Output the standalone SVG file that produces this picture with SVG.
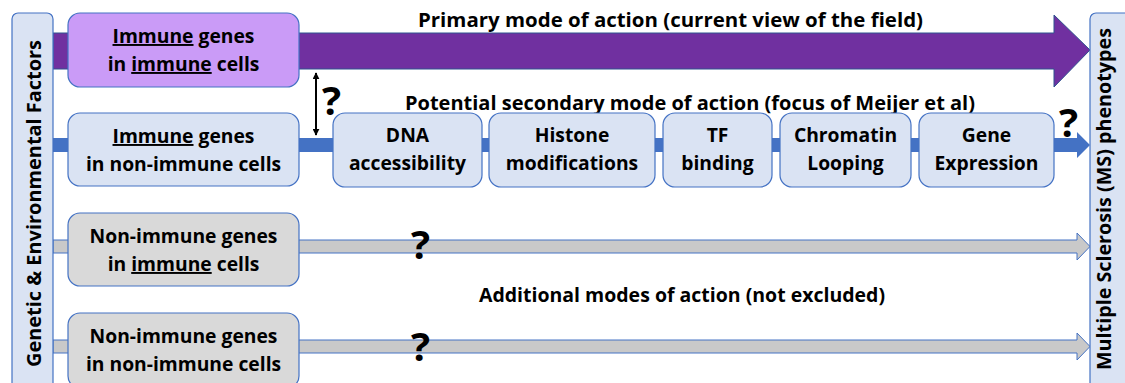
<svg xmlns="http://www.w3.org/2000/svg" width="1125" height="383" viewBox="0 0 1125 383">
  <style>
    text { font-family: "Open Sans", "Liberation Sans", sans-serif; font-weight: bold; fill: #000; }
    .lbl { font-size: 19.3px; text-anchor: middle; }
    .title { font-size: 19px; text-anchor: middle; }
    .q { font-size: 40px; }
    .side { font-size: 20px; text-anchor: middle; }
    .u { text-decoration: underline; }
    .box-purple { fill: #CA9BF7; stroke: #4472C4; stroke-width: 1.2; }
    .box-blue { fill: #DAE3F3; stroke: #4472C4; stroke-width: 1.2; }
    .box-gray { fill: #D9D9D9; stroke: #4472C4; stroke-width: 1.2; }
    .side-bar { fill: #DAE3F3; stroke: #4472C4; stroke-width: 1.2; }
  </style>
  <defs>
    <marker id="tip" viewBox="0 0 10 10" refX="9" refY="5" markerWidth="7" markerHeight="7" markerUnits="userSpaceOnUse" orient="auto-start-reverse">
      <path d="M0,0 L10,5 L0,10 z" fill="#000"/>
    </marker>
  </defs>

  <!-- connectors: pathway arrows running from factors to phenotypes -->
  <g id="connectors">
    <path d="M53,33 H1054 V15 L1090,50 L1054,87 V69 H53 Z" fill="#7030A0" stroke="#2F528F" stroke-width="1"/>
    <path d="M53,138 H1077 V132 L1090,145 L1077,158 V152 H53 Z" fill="#4472C4"/>
    <path d="M53,240 H1077 V233 L1090,246.5 L1077,260 V253 H53 Z" fill="#C9C9C9" stroke="#4472C4" stroke-width="1"/>
    <path d="M53,340 H1077 V333 L1090,346.5 L1077,360 V353 H53 Z" fill="#C9C9C9" stroke="#4472C4" stroke-width="1"/>
    <line x1="316" y1="73" x2="316" y2="135" stroke="#000" stroke-width="2" marker-start="url(#tip)" marker-end="url(#tip)"/>
  </g>

  <!-- side bars -->
  <g id="factors">
    <rect class="side-bar" x="12" y="13" width="41" height="380" rx="6"/>
    <text class="side" transform="translate(41,203.5) rotate(-90)" textLength="327" lengthAdjust="spacingAndGlyphs">Genetic &amp; Environmental Factors</text>
  </g>
  <g id="phenotypes">
    <rect class="side-bar" x="1090" y="13" width="45" height="380" rx="6"/>
    <text class="side" transform="translate(1111,199) rotate(-90)" textLength="342" lengthAdjust="spacingAndGlyphs">Multiple Sclerosis (MS) phenotypes</text>
  </g>

  <!-- labels -->
  <text class="title" x="670.5" y="27" textLength="505" lengthAdjust="spacingAndGlyphs">Primary mode of action (current view of the field)</text>
  <text class="title" x="690" y="110" textLength="570" lengthAdjust="spacingAndGlyphs">Potential secondary mode of action (focus of Meijer et al)</text>
  <text class="title" x="682" y="302" textLength="406" lengthAdjust="spacingAndGlyphs">Additional modes of action (not excluded)</text>
  <text class="q" x="322" y="115">?</text>
  <text class="q" x="1059" y="137">?</text>
  <text class="q" x="411" y="259">?</text>
  <text class="q" x="411" y="361">?</text>

  <!-- gene / cell category nodes -->
  <g id="immune-in-immune">
    <rect class="box-purple" x="68" y="13" width="231" height="74" rx="12"/>
    <text class="lbl" x="183.5" y="43"><tspan class="u">Immune</tspan> genes</text>
    <text class="lbl" x="183.5" y="71">in <tspan class="u">immune</tspan> cells</text>
  </g>
  <g id="immune-in-nonimmune">
    <rect class="box-blue" x="68" y="113" width="231" height="73" rx="12"/>
    <text class="lbl" x="183.5" y="143"><tspan class="u">Immune</tspan> genes</text>
    <text class="lbl" x="183.5" y="171">in non-immune cells</text>
  </g>
  <g id="nonimmune-in-immune">
    <rect class="box-gray" x="68" y="213" width="231" height="73" rx="12"/>
    <text class="lbl" x="183.5" y="243">Non-immune genes</text>
    <text class="lbl" x="183.5" y="271">in <tspan class="u">immune</tspan> cells</text>
  </g>
  <g id="nonimmune-in-nonimmune">
    <rect class="box-gray" x="68" y="313" width="231" height="75" rx="12"/>
    <text class="lbl" x="183.5" y="343">Non-immune genes</text>
    <text class="lbl" x="183.5" y="371">in non-immune cells</text>
  </g>

  <!-- regulatory steps -->
  <g id="dna-accessibility">
    <rect class="box-blue" x="333" y="113" width="149" height="74" rx="12"/>
    <text class="lbl" x="407.5" y="142">DNA</text>
    <text class="lbl" x="407.5" y="170">accessibility</text>
  </g>
  <g id="histone-modifications">
    <rect class="box-blue" x="489" y="113" width="166" height="74" rx="12"/>
    <text class="lbl" x="572" y="142">Histone</text>
    <text class="lbl" x="572" y="170">modifications</text>
  </g>
  <g id="tf-binding">
    <rect class="box-blue" x="663" y="113" width="109" height="74" rx="12"/>
    <text class="lbl" x="717.5" y="142">TF</text>
    <text class="lbl" x="717.5" y="170">binding</text>
  </g>
  <g id="chromatin-looping">
    <rect class="box-blue" x="780" y="113" width="131" height="74" rx="12"/>
    <text class="lbl" x="845.5" y="142">Chromatin</text>
    <text class="lbl" x="845.5" y="170">Looping</text>
  </g>
  <g id="gene-expression">
    <rect class="box-blue" x="919" y="113" width="135" height="74" rx="12"/>
    <text class="lbl" x="986.5" y="142">Gene</text>
    <text class="lbl" x="986.5" y="170">Expression</text>
  </g>
</svg>
